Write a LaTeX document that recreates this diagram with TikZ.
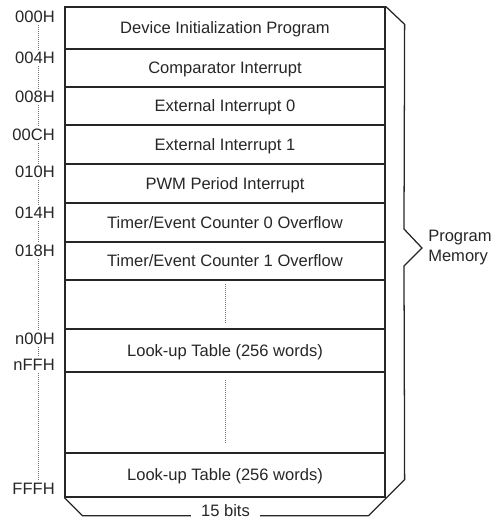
\documentclass[tikz,border=0pt]{standalone}
\usepackage{fontspec}
\setmainfont{Liberation Sans}
\usetikzlibrary{positioning}
\usetikzlibrary{calc}

\tikzset{
	memrow/.style={draw=black!85, line width=0.95pt, minimum width=240pt, inner sep=0pt, text height=8.7pt, text depth=0pt},
	addr/.style={anchor=east, inner sep=1.5pt, text height=8.7pt, text depth=0pt},
	addrdots/.style={draw=black!55, line width=0.6pt, dash pattern=on 0.6pt off 0.9pt},
	memline/.style={draw=black!85, line width=0.95pt},
}

\begin{document}
\begin{tikzpicture}[x=0.75pt, y=-0.75pt, font=\fontsize{12.4}{15}\selectfont, text=black!85]
		\useasboundingbox (0,0) rectangle (496,519);
		% rows of the memory
		\foreach \t/\b/\txt [count=\i] in {7/49/{Device Initialization Program}, 49/87/{Comparator Interrupt}, 87/125/{External Interrupt 0}, 125/164/{External Interrupt 1}, 164/203/{PWM Period Interrupt}, 203/242/{Timer/Event Counter 0 Overflow}, 242/280/{Timer/Event Counter 1 Overflow}, 280/329/{}, 329/372/{Look-up Table (256 words)}, 372/453/{}, 453/497/{Look-up Table (256 words)}}
			\node[memrow, minimum height={(\b-\t)*0.75pt}] (row\i) at (225,{(\t+\b)/2}) {\txt};
		\draw[addrdots, shorten <=3.75pt, shorten >=4.5pt] (row8.north) -- (row8.south);
		\draw[addrdots, shorten <=6.75pt, shorten >=7.5pt] (row10.north) -- (row10.south);
		
		% addresses
		\coordinate (dotx) at (38,0);
		\foreach \a/\y [count=\i] in {000H/17, 004H/58, 008H/97, 00CH/135, 010H/172, 014H/213, 018H/251, n00H/339, nFFH/365, FFFH/489}
			\node[addr] (adr\i) at (57,\y) {\a};
		\foreach \i [evaluate=\i as \j using int(\i+1)] in {1,...,9}
			\draw[addrdots] (dotx |- adr\i.south) -- (dotx |- adr\j.north);
		
		% brace
		\coordinate (A) at ($(row1.north east)+(19,18)$);
		\coordinate (T) at (422,248);
		\coordinate (B) at ($(T)+(-18,-19)$);
		\coordinate (C) at ($(T)+(-18,18)$);
		\coordinate (D) at ($(row11.south east)+(19,-18)$);
		\coordinate (E) at ($(D)+(-36,36)$);
		\coordinate (F) at ($(row11.south west)+(18,18)$);
		\node[inner xsep=7.5pt, inner ysep=0pt] (bits) at ($(F)!0.5!(E)+(0,-5)$) {15 bits};
		\node[right=4.5pt of T, align=left, inner sep=0pt] (pm) {Program\\Memory};
		\draw[memline] (row11.south west) -- (F) -- (F -| bits.west);
		\draw[memline] (E -| bits.east) -- (E) -- (D) -- (C) -- (T) -- (B) -- (A) -- (row1.north east);
	\end{tikzpicture}
\end{document}
